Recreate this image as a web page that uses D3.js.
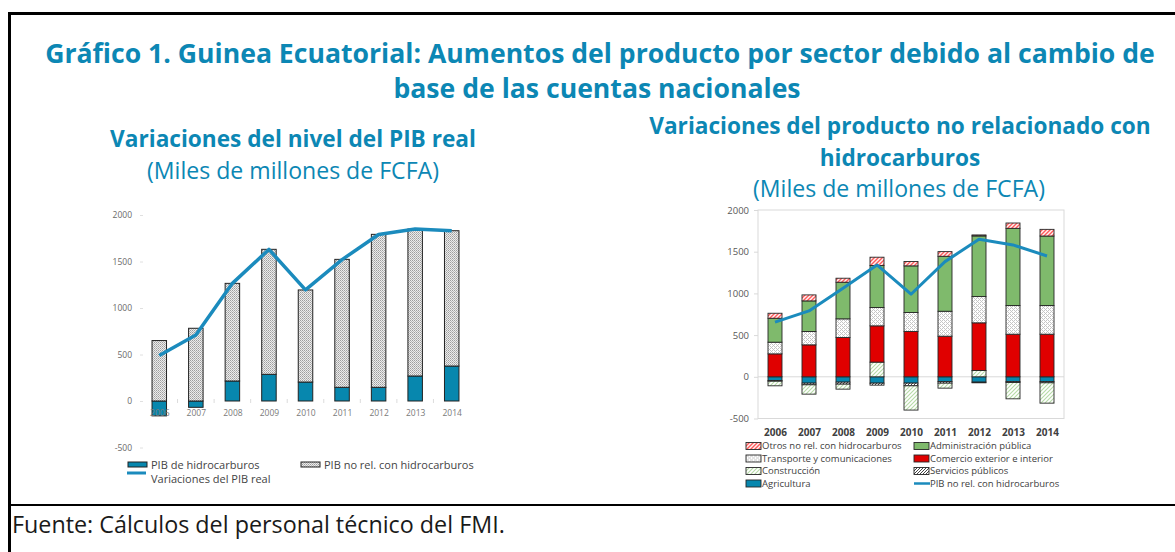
<!DOCTYPE html>
<html>
<head>
<meta charset="utf-8">
<script src="https://cdn.jsdelivr.net/npm/d3@7"></script>
<style>
	body { margin: 0; background: #fff; }
	svg { display: block; font-family: "Open Sans", sans-serif; }
</style>
</head>
<body>
<div id="chart"></div>
<script>
// years shared by both panels
const years = ["2006", "2007", "2008", "2009", "2010", "2011", "2012", "2013", "2014"];

// left panel: real GDP level changes
const pibHidro = [-160, -68, 215, 287, 204, 147, 147, 269, 376];
const pibNoHidro = [650, 782, 1050, 1344, 990, 1376, 1645, 1580, 1455];
const pibReal = [490, 710, 1265, 1630, 1195, 1520, 1790, 1850, 1830];
const leftTicks = [-500, 0, 500, 1000, 1500, 2000];

// right panel: non-hydrocarbon output by sector
const agricultura = [-45, -76, -64, -76, -76, -56, -64, -56, -56];
const servicios = [-8, -20, -24, -24, -32, -20, -8, -12, -16];
const construccion = [-55, -112, -60, 176, -291, -60, 76, -196, -244];
const comercio = [275, 383, 471, 435, 543, 487, 571, 511, 511];
const transporte = [140, 160, 224, 220, 228, 299, 315, 343, 343];
const administracion = [287, 367, 439, 503, 559, 659, 727, 926, 834];
const otros = [60, 72, 48, 100, 52, 56, 12, 64, 80];
const pibNoHidroLinea = [655, 790, 1062, 1341, 990, 1381, 1649, 1581, 1449];
const rightTicks = [-500, 0, 500, 1000, 1500, 2000];

const blue = "#0c87b4";

let svg = d3.select("#chart")
	.append("svg")
	.attr("width", 1175)
	.attr("height", 552);

svg.append("rect").attr("width", 1175).attr("height", 552).attr("fill", "#fff");

// ---- patterns
let defs = svg.append("defs");

function pat(id, size, bg) {
	let p = defs.append("pattern")
		.attr("id", id)
		.attr("patternUnits", "userSpaceOnUse")
		.attr("width", size)
		.attr("height", size);
	p.append("rect").attr("width", size).attr("height", size).attr("fill", bg);
	return p;
}

let pGray = pat("pGray", 2, "#ececec");
pGray.append("rect").attr("width", 1).attr("height", 1).attr("fill", "#9e9e9e");
pGray.append("rect").attr("x", 1).attr("y", 1).attr("width", 1).attr("height", 1).attr("fill", "#b8b8b8");

let pTrans = pat("pTrans", 4, "#fff");
[[0, 0], [1, 1], [2, 2], [3, 3], [2, 0], [0, 2]].forEach(d => {
	pTrans.append("rect").attr("x", d[0]).attr("y", d[1]).attr("width", 1).attr("height", 1).attr("fill", "#c6c6c6");
});

let pOtros = pat("pOtros", 4, "#fff2f2");
pOtros.append("path").attr("d", "M-1,1 L1,-1 M0,4 L4,0 M3,5 L5,3")
	.attr("stroke", "#ff5a5a").attr("stroke-width", 1.4);

let pConst = pat("pConst", 4, "#fff");
pConst.append("path").attr("d", "M-1,1 L1,-1 M0,4 L4,0 M3,5 L5,3")
	.attr("stroke", "#b5dba6").attr("stroke-width", 1.1);

let pServ = pat("pServ", 3, "#fff");
pServ.append("path").attr("d", "M-1,1 L1,-1 M0,3 L3,0 M2,4 L4,2")
	.attr("stroke", "#444").attr("stroke-width", 1);

// ---- titles
function fitText(sel, target) {
	let w = sel.node().getComputedTextLength();
	let fs = parseFloat(sel.attr("font-size"));
	sel.attr("font-size", fs * target / w);
	return target / w;
}

let t1 = svg.append("text")
	.attr("x", 600).attr("y", 63)
	.attr("text-anchor", "middle")
	.attr("font-size", 26).attr("font-weight", 700).attr("fill", blue)
	.text("Gráfico 1. Guinea Ecuatorial: Aumentos del producto por sector debido al cambio de");
let k = fitText(t1, 1110);
svg.append("text")
	.attr("x", 597).attr("y", 98)
	.attr("text-anchor", "middle")
	.attr("font-size", 26 * k).attr("font-weight", 700).attr("fill", blue)
	.text("base de las cuentas nacionales");

let s1 = svg.append("text")
	.attr("x", 293).attr("y", 147)
	.attr("text-anchor", "middle")
	.attr("font-size", 20).attr("font-weight", 700).attr("fill", blue)
	.text("Variaciones del nivel del PIB real");
let k2 = fitText(s1, 366);
svg.append("text")
	.attr("x", 293).attr("y", 179)
	.attr("text-anchor", "middle")
	.attr("font-size", 20 * k2 * 1.02).attr("fill", blue)
	.text("(Miles de millones de FCFA)");

svg.append("text")
	.attr("x", 900).attr("y", 134)
	.attr("text-anchor", "middle")
	.attr("font-size", 20 * k2).attr("font-weight", 700).attr("fill", blue)
	.text("Variaciones del producto no relacionado con");
svg.append("text")
	.attr("x", 900).attr("y", 166)
	.attr("text-anchor", "middle")
	.attr("font-size", 20 * k2).attr("font-weight", 700).attr("fill", blue)
	.text("hidrocarburos");
svg.append("text")
	.attr("x", 899).attr("y", 197)
	.attr("text-anchor", "middle")
	.attr("font-size", 20 * k2 * 1.02).attr("fill", blue)
	.text("(Miles de millones de FCFA)");

// ---- frame
svg.append("path")
	.attr("d", "M9.5,552 V13.5 H1175")
	.attr("fill", "none").attr("stroke", "#000").attr("stroke-width", 3);
svg.append("line")
	.attr("x1", 8).attr("x2", 1175).attr("y1", 505).attr("y2", 505)
	.attr("stroke", "#000").attr("stroke-width", 2);

let f = svg.append("text")
	.attr("x", 12).attr("y", 533)
	.attr("font-size", 18).attr("fill", "#1a1a1a")
	.text("Fuente: Cálculos del personal técnico del FMI.");
fitText(f, 493);

// ================= left panel
let xL = d3.scalePoint().domain(years).range([141, 470]).padding(0.5);
let yL = d3.scaleLinear().domain([-500, 2000]).range([447.5, 215]);
let stepL = xL.step();
let bwL = 14.5;

let gL = svg.append("g");

let yAxisL = gL.append("g")
	.attr("transform", "translate(143,0)")
	.call(d3.axisLeft(yL).tickValues(leftTicks).tickSize(3).tickPadding(8).tickFormat(d => String(d)));
yAxisL.select(".domain").remove();
yAxisL.selectAll("line").attr("stroke", "#e0e0e0");
yAxisL.selectAll("text").attr("fill", "#6a6a6a").attr("font-size", 8.5).attr("font-family", "Open Sans");

// faint separators on zero line
gL.selectAll(".sep")
	.data(years.slice(0, -1))
	.enter()
	.append("line")
	.attr("x1", d => xL(d) + stepL / 2)
	.attr("x2", d => xL(d) + stepL / 2)
	.attr("y1", yL(0) - 2)
	.attr("y2", yL(0) + 2)
	.attr("stroke", "#dcdcdc");

let stackL = d3.stack()
	.keys(["hidro", "noHidro"])
	.offset(d3.stackOffsetDiverging)(years.map((y, i) => ({ year: y, hidro: pibHidro[i], noHidro: pibNoHidro[i] })));

let fillL = { hidro: "#0787ae", noHidro: "url(#pGray)" };

gL.selectAll(".serL")
	.data(stackL)
	.enter()
	.append("g")
	.attr("fill", d => fillL[d.key])
	.selectAll("rect")
	.data(d => d)
	.enter()
	.append("rect")
	.attr("x", d => xL(d.data.year) - bwL / 2)
	.attr("y", d => yL(Math.max(d[0], d[1])))
	.attr("width", bwL)
	.attr("height", d => Math.abs(yL(d[0]) - yL(d[1])))
	.attr("stroke", "#222")
	.attr("stroke-width", 1);

let xAxisL = gL.append("g")
	.attr("transform", "translate(0," + yL(0) + ")")
	.call(d3.axisBottom(xL).tickSize(0).tickPadding(9));
xAxisL.select(".domain").remove();
xAxisL.selectAll("text").attr("fill", "#7a7a7a").attr("font-size", 8.5).attr("font-family", "Open Sans");

gL.append("path")
	.datum(pibReal)
	.attr("fill", "none")
	.attr("stroke", "#1b8bbd")
	.attr("stroke-width", 3.5)
	.attr("stroke-linejoin", "round")
	.attr("d", d3.line().x((d, i) => xL(years[i])).y(d => yL(d)));

// left legend
let legL = svg.append("g").attr("font-size", 11).attr("fill", "#444");
legL.append("rect").attr("x", 128).attr("y", 462).attr("width", 19).attr("height", 5)
	.attr("fill", "#0787ae").attr("stroke", "#222");
legL.append("text").attr("x", 151).attr("y", 469).text("PIB de hidrocarburos");
legL.append("rect").attr("x", 301).attr("y", 462).attr("width", 19).attr("height", 5)
	.attr("fill", "url(#pGray)").attr("stroke", "#222");
legL.append("text").attr("x", 324).attr("y", 469).text("PIB no rel. con hidrocarburos");
legL.append("line").attr("x1", 127).attr("x2", 146).attr("y1", 473).attr("y2", 473)
	.attr("stroke", "#1b8bbd").attr("stroke-width", 3);
legL.append("text").attr("x", 151).attr("y", 483).text("Variaciones del PIB real");

// ================= right panel
let xR = d3.scalePoint().domain(years).range([758, 1064]).padding(0.5);
let yR = d3.scaleLinear().domain([-500, 2000]).range([418.5, 210]);
let bwR = 14;

let gR = svg.append("g");

gR.append("rect")
	.attr("x", 758).attr("y", 210)
	.attr("width", 1064 - 758).attr("height", yR(-500) - 210)
	.attr("fill", "none").attr("stroke", "#d9d9d9");
gR.append("line")
	.attr("x1", 758).attr("x2", 1064)
	.attr("y1", yR(0)).attr("y2", yR(0))
	.attr("stroke", "#d9d9d9");

let yAxisR = gR.append("g")
	.attr("transform", "translate(758,0)")
	.call(d3.axisLeft(yR).tickValues(rightTicks).tickSize(4).tickPadding(5).tickFormat(d => String(d)));
yAxisR.select(".domain").remove();
yAxisR.selectAll("line").attr("stroke", "#d9d9d9");
yAxisR.selectAll("text").attr("fill", "#595959").attr("font-size", 9.5).attr("font-family", "Open Sans");

let sectors = [
	{ key: "agricultura", values: agricultura, fill: "#0787ae", label: "Agricultura" },
	{ key: "servicios", values: servicios, fill: "url(#pServ)", label: "Servicios públicos" },
	{ key: "construccion", values: construccion, fill: "url(#pConst)", label: "Construcción" },
	{ key: "comercio", values: comercio, fill: "#e00000", label: "Comercio exterior e interior" },
	{ key: "transporte", values: transporte, fill: "url(#pTrans)", label: "Transporte y comunicaciones" },
	{ key: "administracion", values: administracion, fill: "#7fba6c", label: "Administración pública" },
	{ key: "otros", values: otros, fill: "url(#pOtros)", label: "Otros no rel. con hidrocarburos" }
];

let rowsR = years.map((y, i) => {
	let r = { year: y };
	sectors.forEach(s => { r[s.key] = s.values[i]; });
	return r;
});

let stackR = d3.stack()
	.keys(sectors.map(s => s.key))
	.offset(d3.stackOffsetDiverging)(rowsR);

gR.selectAll(".serR")
	.data(stackR)
	.enter()
	.append("g")
	.attr("fill", (d, i) => sectors[i].fill)
	.selectAll("rect")
	.data(d => d)
	.enter()
	.append("rect")
	.attr("x", d => xR(d.data.year) - bwR / 2)
	.attr("y", d => yR(Math.max(d[0], d[1])))
	.attr("width", bwR)
	.attr("height", d => Math.abs(yR(d[0]) - yR(d[1])))
	.attr("stroke", "#262626")
	.attr("stroke-width", 0.9);

let xAxisR = gR.append("g")
	.attr("transform", "translate(0," + yR(-500) + ")")
	.call(d3.axisBottom(xR).tickSize(0).tickPadding(10));
xAxisR.select(".domain").remove();
xAxisR.selectAll("text").attr("fill", "#404040").attr("font-size", 10).attr("font-weight", 700).attr("font-family", "Open Sans");

gR.append("path")
	.datum(pibNoHidroLinea)
	.attr("fill", "none")
	.attr("stroke", "#1b8bbd")
	.attr("stroke-width", 3)
	.attr("stroke-linejoin", "round")
	.attr("d", d3.line().x((d, i) => xR(years[i])).y(d => yR(d)));

// right legend, two columns
let legendR = [
	sectors[6], sectors[5],
	sectors[4], sectors[3],
	sectors[2], sectors[1],
	sectors[0], { key: "linea", label: "PIB no rel. con hidrocarburos" }
];

let legR = svg.append("g").attr("font-size", 9.5).attr("fill", "#404040");
legR.selectAll("g")
	.data(legendR)
	.enter()
	.append("g")
	.attr("transform", (d, i) => "translate(" + (i % 2 ? 914 : 746) + "," + (446 + Math.floor(i / 2) * 12.5) + ")")
	.each(function (d) {
		let g = d3.select(this);
		if (d.key === "linea") {
			g.append("line").attr("x1", 0).attr("x2", 16).attr("stroke", "#1b8bbd").attr("stroke-width", 2.5);
		} else {
			g.append("rect").attr("x", 0).attr("y", -3.5).attr("width", 15).attr("height", 7)
				.attr("fill", d.fill).attr("stroke", "#262626").attr("stroke-width", 0.9);
		}
		g.append("text").attr("x", 16).attr("dy", "0.35em").text(d.label);
	});
</script>
</body>
</html>
